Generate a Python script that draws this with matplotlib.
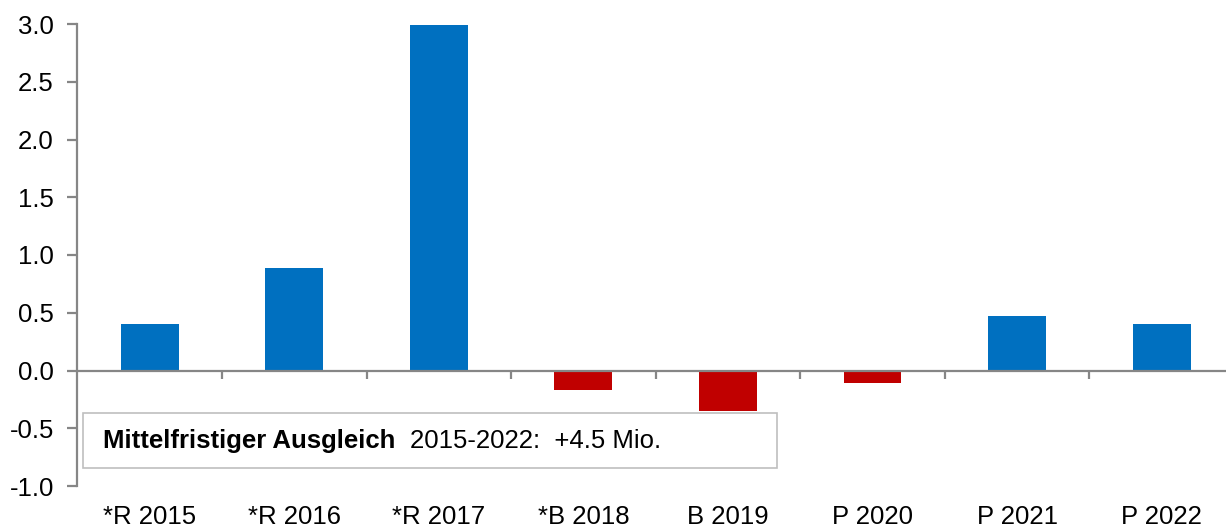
import matplotlib
matplotlib.use("Agg")
import matplotlib.pyplot as plt
from matplotlib.patches import Rectangle

categories = ["*R 2015", "*R 2016", "*R 2017", "*B 2018", "B 2019", "P 2020", "P 2021", "P 2022"]
values = [0.40, 0.89, 2.99, -0.17, -0.35, -0.11, 0.47, 0.405]
yticks = [-1.0, -0.5, 0.0, 0.5, 1.0, 1.5, 2.0, 2.5, 3.0]
box_bold = "Mittelfristiger Ausgleich"
box_text = "2015-2022:  +4.5 Mio."

BLUE = "#0070C0"
RED = "#C00000"
GRAY = "#868686"

plt.rcParams["font.family"] = ["Liberation Sans", "DejaVu Sans"]
FS = 18.5

W, H = 1226, 527
fig = plt.figure(figsize=(W / 100, H / 100), dpi=100)
left_px, right_px = 77.45, 1233.9
top_px, bot_px = 24, 486
ax = fig.add_axes([left_px / W, 1 - bot_px / H, (right_px - left_px) / W, (bot_px - top_px) / H])

n = len(categories)
x = list(range(n))
colors = [BLUE if v >= 0 else RED for v in values]
ax.bar(x, values, width=0.40, color=colors, zorder=2)

ax.set_xlim(-0.5, n - 0.5)
ax.set_ylim(-1.0, 3.0)
ax.set_yticks(yticks)
ax.set_yticklabels([f"{t:.1f}" for t in yticks])

for s in ["top", "right", "bottom"]:
    ax.spines[s].set_visible(False)
ax.spines["left"].set_color(GRAY)
ax.spines["left"].set_linewidth(1.6)

ax.tick_params(axis="y", length=7, width=1.6, color=GRAY, labelsize=FS, pad=10, labelcolor="black")
ax.set_xticks(x)
ax.set_xticklabels(categories)
ax.tick_params(axis="x", length=0, labelsize=FS, pad=14, labelcolor="black")

# zero line with category separators
ax.axhline(0, color=GRAY, lw=1.6, zorder=3)
tick_len = 8 / 115.3
for k in range(1, n):
    ax.plot([k - 0.5, k - 0.5], [0, -tick_len], color=GRAY, lw=1.6, zorder=3, solid_capstyle="butt")

# annotation box
trans = ax.transAxes
def px_to_axes(px, py):
    return ((px - left_px) / (right_px - left_px), (bot_px - py) / (bot_px - top_px))

x0, y0 = px_to_axes(83, 468)
x1, y1 = px_to_axes(777, 412.7)
ax.add_patch(Rectangle((x0, y0), x1 - x0, y1 - y0, transform=trans, facecolor="white",
                       edgecolor="#BFBFBF", lw=1.2, zorder=4))
tx, ty = px_to_axes(103, 441)
t1 = ax.text(tx, ty, box_bold, transform=trans, fontsize=FS, fontweight="bold",
             va="center", ha="left", zorder=5)
ax.annotate(box_text, xy=(1, 0.5), xycoords=t1, xytext=(15, 0), textcoords="offset pixels",
            fontsize=FS, va="center", ha="left", zorder=5)

fig.savefig("out.png", dpi=100)
